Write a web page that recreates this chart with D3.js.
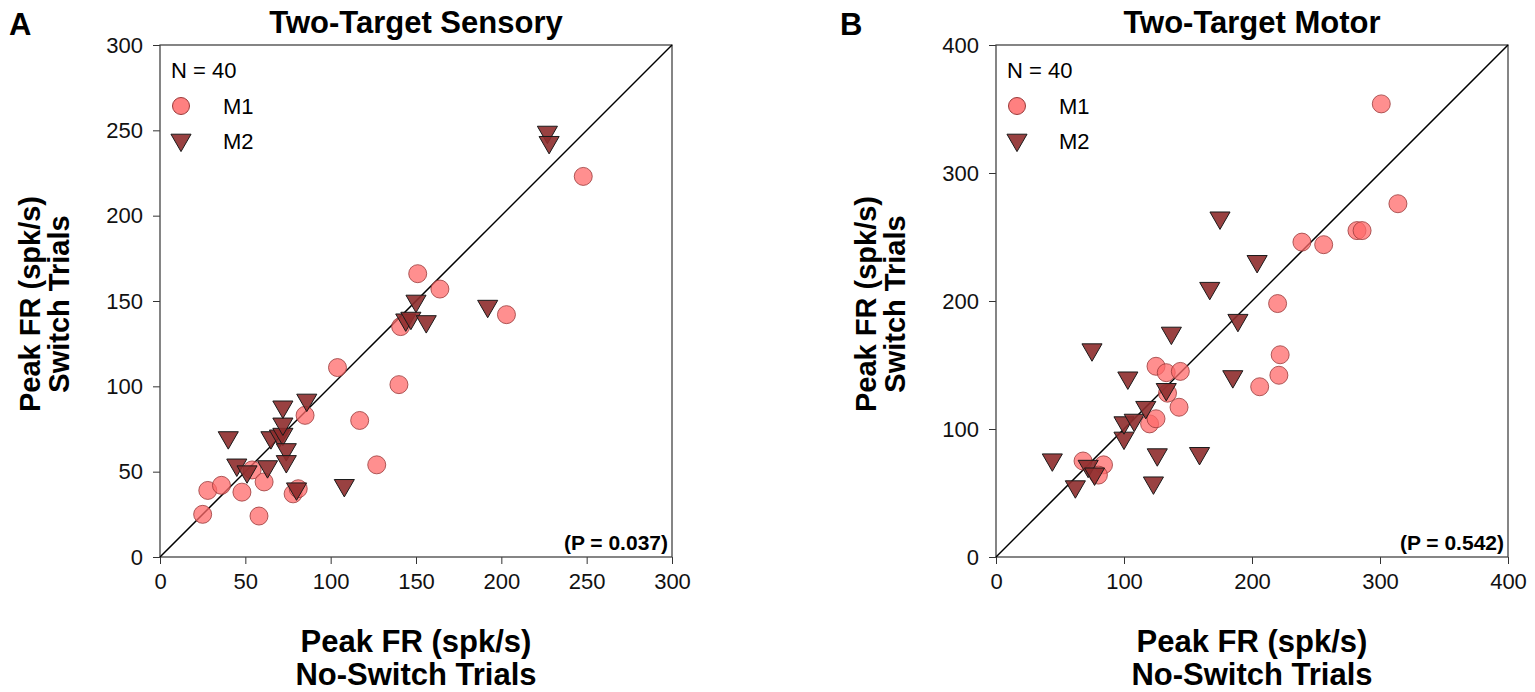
<!DOCTYPE html>
<html>
<head>
<meta charset="utf-8">
<script src="https://cdn.jsdelivr.net/npm/d3@7"></script>
<style>
body { margin: 0; background: #fff; }
text { font-family: "Liberation Sans", Arial, sans-serif; }
</style>
</head>
<body>
<script>
// panel A - Two-Target Sensory
var sensoryM1x = [25, 28, 36, 48, 58, 54, 61, 78, 81, 85, 104, 117, 127, 140, 141, 151, 164, 203, 248];
var sensoryM1y = [25, 39, 42, 38, 24, 51, 44, 37, 40, 83, 111, 80, 54, 101, 135, 166, 157, 142, 223];
var sensoryM2x = [40, 45, 51, 63, 65, 70, 72, 72, 72, 74, 74, 80, 86, 108, 144, 147, 150, 156, 192, 227, 228];
var sensoryM2y = [70, 54, 50, 53, 70, 71, 72, 78, 88, 63, 56, 40, 92, 42, 139, 140, 150, 138, 147, 249, 243];
// panel B - Two-Target Motor
var motorM1x = [68, 84, 80, 120, 125, 125, 133, 144, 134, 143, 220, 222, 221, 206, 301, 314, 282, 286, 239, 256];
var motorM1y = [75, 72, 64, 104, 108, 149, 144, 145, 128, 117, 198, 158, 142, 133, 354, 276, 255, 255, 246, 244];
var motorM2x = [62, 44, 72, 77, 75, 100, 100, 108, 103, 117, 126, 123, 133, 137, 159, 185, 189, 175, 167, 204];
var motorM2y = [55, 76, 71, 65, 162, 93, 105, 107, 140, 117, 80, 58, 131, 175, 81, 141, 185, 265, 210, 231];

var sensoryTicks = [0, 50, 100, 150, 200, 250, 300];
var motorTicks = [0, 100, 200, 300, 400];

var svg = d3.select("body").append("svg")
	.attr("width", 1535)
	.attr("height", 692);

var circleFill = "#ff6a6a";
var triFill = "#8e2c2c";
var triPath = d3.symbol().type(d3.symbolTriangle).size(175);

function styleAxis(a){
	a.attr("font-size", 22).attr("font-family", null);
	a.select(".domain").remove();
	a.selectAll("line").attr("stroke", "#333");
	a.selectAll("text").attr("fill", "#111");
}

function drawPanel(p){
	var x = d3.scaleLinear().domain([0, p.max]).range([p.left, p.left + 512]);
	var y = d3.scaleLinear().domain([0, p.max]).range([557, 45]);
	var g = svg.append("g");

	g.append("g")
		.attr("transform", "translate(0,557)")
		.call(d3.axisBottom(x).tickValues(p.ticks).tickSize(7).tickPadding(9).tickSizeOuter(0))
		.call(styleAxis);
	g.append("g")
		.attr("transform", "translate(" + p.left + ",0)")
		.call(d3.axisLeft(y).tickValues(p.ticks).tickSize(7).tickPadding(10).tickSizeOuter(0))
		.call(styleAxis);

	// box
	g.append("rect")
		.attr("x", x(0)).attr("y", y(p.max))
		.attr("width", x(p.max) - x(0)).attr("height", y(0) - y(p.max))
		.attr("fill", "none").attr("stroke", "#444").attr("stroke-width", 1.3);

	// unity line
	g.append("line")
		.attr("x1", x(0)).attr("y1", y(0))
		.attr("x2", x(p.max)).attr("y2", y(p.max))
		.attr("stroke", "#000").attr("stroke-width", 1.5);

	// M1 circles
	g.selectAll(".m1").data(p.m1x).enter().append("circle")
		.attr("cx", function(d){ return x(d); })
		.attr("cy", function(d, i){ return y(p.m1y[i]); })
		.attr("r", 9)
		.attr("fill", circleFill).attr("fill-opacity", 0.75)
		.attr("stroke", "#9a3a3a").attr("stroke-opacity", 0.8).attr("stroke-width", 1);

	// M2 triangles
	g.selectAll(".m2").data(p.m2x).enter().append("path")
		.attr("d", triPath)
		.attr("transform", function(d, i){ return "translate(" + x(d) + "," + y(p.m2y[i]) + ") rotate(180)"; })
		.attr("fill", triFill).attr("fill-opacity", 0.9)
		.attr("stroke", "#1a1a1a").attr("stroke-width", 1);

	// legend
	g.append("text").attr("x", p.left + 11).attr("y", 78).attr("font-size", 22).text("N = 40");
	g.append("circle").attr("cx", p.left + 21).attr("cy", 106).attr("r", 8.5)
		.attr("fill", circleFill).attr("fill-opacity", 0.85).attr("stroke", "#9a3a3a").attr("stroke-width", 1);
	g.append("text").attr("x", p.left + 63).attr("y", 114).attr("font-size", 22).text("M1");
	g.append("path").attr("d", triPath)
		.attr("transform", "translate(" + (p.left + 21) + ",140) rotate(180)")
		.attr("fill", triFill).attr("fill-opacity", 0.9).attr("stroke", "#1a1a1a").attr("stroke-width", 1);
	g.append("text").attr("x", p.left + 63).attr("y", 149).attr("font-size", 22).text("M2");

	g.append("text")
		.attr("x", p.left + 508).attr("y", 550)
		.attr("text-anchor", "end").attr("font-size", 21).attr("font-weight", "bold")
		.text(p.pval);

	// titles
	var cx = p.left + 256;
	g.append("text").attr("x", cx).attr("y", 33)
		.attr("text-anchor", "middle").attr("font-size", 31).attr("font-weight", "bold")
		.text(p.title);
	g.append("text").attr("x", p.letterX).attr("y", 35)
		.attr("font-size", 31).attr("font-weight", "bold").text(p.letter);

	g.append("text").attr("x", cx).attr("y", 652)
		.attr("text-anchor", "middle").attr("font-size", 31).attr("font-weight", "bold")
		.text("Peak FR (spk/s)");
	g.append("text").attr("x", cx).attr("y", 685)
		.attr("text-anchor", "middle").attr("font-size", 31).attr("font-weight", "bold")
		.text("No-Switch Trials");

	g.append("text").attr("transform", "translate(" + p.ylabX + ",304) rotate(-90)")
		.attr("text-anchor", "middle").attr("font-size", 29).attr("font-weight", "bold")
		.text("Peak FR (spk/s)");
	g.append("text").attr("transform", "translate(" + (p.ylabX + 29) + ",304) rotate(-90)")
		.attr("text-anchor", "middle").attr("font-size", 29).attr("font-weight", "bold")
		.text("Switch Trials");
}

drawPanel({left: 160, max: 300, ticks: sensoryTicks, m1x: sensoryM1x, m1y: sensoryM1y, m2x: sensoryM2x, m2y: sensoryM2y,
	title: "Two-Target Sensory", letter: "A", letterX: 9, ylabX: 40, pval: "(P = 0.037)"});
drawPanel({left: 996, max: 400, ticks: motorTicks, m1x: motorM1x, m1y: motorM1y, m2x: motorM2x, m2y: motorM2y,
	title: "Two-Target Motor", letter: "B", letterX: 840, ylabX: 876, pval: "(P = 0.542)"});
</script>
</body>
</html>
